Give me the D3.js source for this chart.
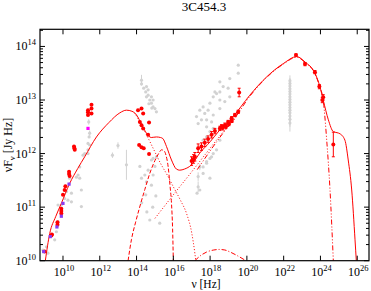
<!DOCTYPE html>
<html>
<head>
<meta charset="utf-8">
<script src="https://cdn.jsdelivr.net/npm/d3@7"></script>
<style>
  body { margin: 0; background: #fff; }
  text { font-family: "Liberation Serif", "Times New Roman", serif; fill: #000; }
</style>
</head>
<body>
<svg id="chart" width="371" height="291"></svg>
<script>
// all values are log10(nu [Hz]), log10(nuFnu [Jy Hz]) pairs
const xTicks = [10, 12, 14, 16, 18, 20, 22, 24, 26]
const yTicks = [10, 11, 12, 13, 14]

// model components
const totalModel = [[9.04,10.0],[9.28,10.51],[9.6,10.82],[9.91,11.07],[10.36,11.44],[10.8,11.72],[11.18,11.94],[11.82,12.31],[12.5,12.58],[13.09,12.76],[13.45,12.81],[13.75,12.79],[14.0,12.72],[14.27,12.55],[14.54,12.38],[14.8,12.3],[15.08,12.31],[15.3,12.3],[15.43,12.28],[15.63,12.13],[15.9,11.88],[16.17,11.71],[16.35,11.69],[16.6,11.71],[16.99,11.79],[17.44,12.01],[18.0,12.22],[18.5,12.43],[19.25,12.69],[20.16,13.09],[21.07,13.43],[21.98,13.68],[22.71,13.81],[23.16,13.71],[23.7,13.5],[23.97,13.25],[24.15,13.0],[24.43,12.63],[24.7,12.41],[24.9,12.39],[25.06,12.37],[25.33,12.25],[25.51,11.88],[25.7,11.32],[25.88,10.39],[25.95,10.0]]
const syncModel = [[13.9,12.76],[14.2,12.58],[14.5,12.38],[14.9,12.1],[15.3,11.82],[15.7,11.58],[16.0,11.38],[16.4,11.12],[16.72,10.88],[17.0,10.52],[17.17,10.14],[17.22,10.0]]
const diskModel = [[13.54,10.0],[13.72,10.39],[13.95,10.72],[14.17,11.0],[14.45,11.33],[14.72,11.63],[15.0,11.87],[15.2,12.0],[15.36,12.07],[15.5,12.05],[15.6,11.97],[15.72,11.75],[15.82,11.4],[15.9,11.07],[15.96,10.6],[16.0,10.0]]
const sscModel = [[15.0,10.79],[16.0,11.23],[17.0,11.66],[18.0,12.1],[18.7,12.4],[19.4,12.67]]
const ecModel = [[17.3,11.7],[18.0,12.05],[18.7,12.38],[19.3,12.64],[20.16,13.07],[21.07,13.42],[21.98,13.67],[22.71,13.8],[23.16,13.7],[23.7,13.49],[23.97,13.24],[24.15,13.0],[24.34,12.25],[24.52,11.32],[24.7,10.0]]
const coronaModel = [[17.17,10.0],[17.5,10.1],[17.8,10.16],[18.2,10.2],[18.5,10.21],[18.8,10.2],[19.1,10.16],[19.5,10.09],[19.95,10.0]]

// simultaneous data (red), [nu, F, err]
const radioRed = [[9.0,10.17],[9.37,10.47],[9.4,10.49],[9.7,10.67],[9.7,10.72],[9.91,10.88],[9.91,10.93],[9.91,10.97],[10.0,11.23],[10.09,11.32],[10.13,11.39],[10.33,11.66],[10.36,11.58],[10.33,11.62],[10.6,12.13],[10.64,12.07],[10.62,12.1],[11.36,12.72],[11.36,12.81],[11.36,12.77],[11.55,12.91],[11.55,12.84],[11.55,12.75]]
const opticalRed = [[14.08,12.81],[14.27,12.84],[14.36,12.75],[14.18,12.59],[14.27,12.53],[14.36,12.47],[14.68,12.58],[14.63,12.35],[14.14,12.16],[14.27,12.12],[14.39,12.1],[14.68,11.99]]
const xrayRed = [[16.99,11.86,0.08],[17.1,11.9,0.08],[17.17,11.94,0.08],[17.35,12.1,0.08],[17.53,12.13,0.07],[17.71,12.2,0.07],[17.89,12.27,0.06],[18.08,12.35,0.06],[18.26,12.42,0.05],[18.53,12.47,0.04],[18.62,12.5,0.04],[18.69,12.48,0.04],[18.8,12.53,0.04],[18.86,12.51,0.04],[18.98,12.59,0.03],[19.02,12.55,0.03],[19.17,12.66,0.03],[19.18,12.61,0.03],[19.35,12.72,0.03],[19.53,12.78,0.03],[19.58,13.14,0.08]]
const gammaRed = [[22.67,13.84,0.02],[23.16,13.67,0.03],[23.7,13.52,0.03],[23.94,13.25,0.04],[24.1,13.0,0.05],[24.15,13.05,0.05],[24.7,12.17,0.23]]
const radioPurple = [[8.95,10.17],[9.31,10.45],[9.67,10.63],[9.91,10.83],[10.0,11.07],[10.33,11.43]]
const radioMagenta = [[11.36,12.47]]

// archival data (grey), [nu, F, err]
const archival = [
  [8.91,10.2],[9.1,10.26],[9.18,10.14],[9.55,10.39],[9.64,10.54],[9.73,10.73],[9.73,11.04],[9.91,11.04],[10.09,11.16],[10.19,11.29],[10.27,11.13],[10.46,11.26],[10.46,11.1],[10.36,11.54],[10.73,11.56],[10.82,11.6],[10.91,11.54],[10.91,11.75],[11.0,11.32],[11.0,11.01],[11.09,11.97],[11.18,12.0],[11.36,12.07],[11.36,12.19],[11.45,12.16],[11.36,12.0],[11.45,12.38,0.05],[11.42,12.31],[11.4,12.59,0.05],
  [12.69,11.97,0.05],[12.99,12.15,0.06],[13.45,11.79,0.28],
  [14.27,13.37,0.1],[14.27,13.3],[14.54,13.25],[14.63,13.19],[14.54,13.06],[14.72,13.0],[14.81,12.94],[14.9,12.87],[15.0,12.84],[15.08,12.78],[14.81,13.06],[14.63,13.09],[14.9,13.0],[14.39,13.22],[14.5,13.15],[14.67,12.93],[14.83,12.85],
  [14.18,11.76],[14.45,11.6],[14.63,11.69],[14.81,11.88],[14.9,11.91],[15.08,11.94],[14.27,11.54],[14.54,11.47],[14.81,11.41],[15.0,11.76],[14.9,11.6],[14.28,11.08],[14.56,10.91],[14.72,10.76],[14.88,11.0],[15.05,11.21],[14.5,11.23],[15.26,10.7],
  [17.62,12.25],[17.81,12.31],[17.99,12.41],[18.17,12.47],[17.81,12.63],[18.17,12.72],[18.53,12.84],[18.8,12.97],[19.07,13.06],[19.53,13.5],[19.53,13.65],[18.53,13.34],[18.26,13.15],[19.07,13.4],[18.98,13.22],[18.53,13.15],[18.17,13.06],[17.26,12.69],[17.44,12.81],[17.62,12.87],[17.35,12.56],[17.71,12.75],[17.99,12.94],[17.89,12.81],[18.35,13.12],[17.53,12.63],[17.81,12.5],[18.08,12.59],[18.53,13.0],[18.71,13.25],
  [17.44,11.75,0.06],[17.62,11.63],[17.81,11.82],[17.99,11.91],[18.17,12.0],[18.35,12.07],[17.35,11.57,0.08],[17.62,11.75],[17.81,11.85],[18.08,11.94],[17.99,11.54],[17.35,11.38,0.1],[17.29,11.26],[17.44,11.32],[18.53,12.25],
  [22.34,13.36,0.1],[22.34,13.31,0.1],[22.34,13.26,0.1],[22.34,13.21,0.1],[22.34,13.16,0.1],[22.34,13.11,0.1],[22.34,13.06,0.1],[22.34,13.01,0.1],[22.34,12.96,0.1],[22.34,12.91,0.1],[22.34,12.86,0.1],[22.34,12.81,0.1],[22.34,12.76,0.12],[22.34,12.7,0.12],[22.34,12.64,0.14],[22.34,12.57,0.16]
]

const svg = d3.select('#chart')
const L = 40, R = 369, T = 29.3, B = 260.7

const x = d3.scaleLog().domain([10 ** 8.75, 10 ** 26.64]).range([L, R])
const y = d3.scaleLog().domain([1e10, 10 ** 14.32]).range([B, T])
const px = d => x(10 ** d[0])
const py = d => y(10 ** d[1])

svg.append('clipPath').attr('id', 'plot')
  .append('rect').attr('x', L).attr('y', T).attr('width', R - L).attr('height', B - T)

const g = svg.append('g').attr('clip-path', 'url(#plot)')

// archival grey
const grey = '#d2d2d2'
g.selectAll('line.gerr')
  .data(archival.filter(d => d[2]))
  .enter().append('line')
  .attr('x1', px).attr('x2', px)
  .attr('y1', d => y(10 ** (d[1] + d[2])))
  .attr('y2', d => y(10 ** (d[1] - d[2])))
  .attr('stroke', grey).attr('stroke-width', 1)
g.selectAll('circle.grey')
  .data(archival)
  .enter().append('circle')
  .attr('cx', px).attr('cy', py).attr('r', 1.6)
  .attr('fill', grey)

// model curves
const line = d3.line().x(px).y(py).curve(d3.curveMonotoneX)
const curves = [
  { data: diskModel, dash: '4,2' },
  { data: syncModel, dash: '1,2' },
  { data: sscModel, dash: '1,2' },
  { data: coronaModel, dash: '5,2,1,2' },
  { data: ecModel, dash: '5,2,1,2,1,2' },
  { data: totalModel, dash: null }
]
curves.forEach(c => {
  g.append('path')
    .attr('d', line(c.data))
    .attr('fill', 'none')
    .attr('stroke', 'red')
    .attr('stroke-width', 1)
    .attr('stroke-dasharray', c.dash)
})

// red data with error bars
const redErr = xrayRed.concat(gammaRed)
g.selectAll('path.rerr')
  .data(redErr)
  .enter().append('path')
  .attr('d', d => {
    const cx = px(d), y1 = y(10 ** (d[1] + d[2])), y2 = y(10 ** (d[1] - d[2]))
    return `M${cx},${y1}V${y2}M${cx - 1.5},${y1}H${cx + 1.5}M${cx - 1.5},${y2}H${cx + 1.5}`
  })
  .attr('stroke', 'red').attr('stroke-width', 1).attr('fill', 'none')

g.selectAll('circle.red')
  .data(radioRed.concat(opticalRed, xrayRed, gammaRed))
  .enter().append('circle')
  .attr('cx', px).attr('cy', py).attr('r', 2)
  .attr('fill', 'red')

g.selectAll('rect.purple')
  .data(radioPurple)
  .enter().append('rect')
  .attr('x', d => px(d) - 1.6).attr('y', d => py(d) - 1.6)
  .attr('width', 3.2).attr('height', 3.2)
  .attr('fill', '#8a3cf0')
g.selectAll('rect.magenta')
  .data(radioMagenta)
  .enter().append('rect')
  .attr('x', d => px(d) - 1.6).attr('y', d => py(d) - 1.6)
  .attr('width', 3.2).attr('height', 3.2)
  .attr('fill', '#ff00ff')

// frame and ticks
svg.append('rect')
  .attr('x', L).attr('y', T).attr('width', R - L).attr('height', B - T)
  .attr('fill', 'none').attr('stroke', '#000').attr('stroke-width', 1.2)

const ticks = svg.append('g').attr('stroke', '#000').attr('stroke-width', 1)
xTicks.forEach(e => {
  const xx = x(10 ** e)
  ticks.append('line').attr('x1', xx).attr('x2', xx).attr('y1', B).attr('y2', B - 5)
  ticks.append('line').attr('x1', xx).attr('x2', xx).attr('y1', T).attr('y2', T + 5)
})
yTicks.forEach(e => {
  const yy = y(10 ** e)
  ticks.append('line').attr('x1', L).attr('x2', L + 5).attr('y1', yy).attr('y2', yy)
  ticks.append('line').attr('x1', R).attr('x2', R - 5).attr('y1', yy).attr('y2', yy)
  for (let k = 2; k < 10; k++) {
    const v = k * 10 ** e
    if (v > y.domain()[1]) break
    const ym = y(v)
    ticks.append('line').attr('x1', L).attr('x2', L + 3).attr('y1', ym).attr('y2', ym)
    ticks.append('line').attr('x1', R).attr('x2', R - 3).attr('y1', ym).attr('y2', ym)
  }
})

// tick labels
xTicks.forEach(e => {
  const t = svg.append('text')
    .attr('x', x(10 ** e) + 1).attr('y', 276)
    .attr('text-anchor', 'middle').attr('font-size', 12)
  t.append('tspan').text('10')
  t.append('tspan').attr('dy', -5).attr('font-size', 8.5).text(e)
})
yTicks.forEach(e => {
  const t = svg.append('text')
    .attr('x', 36).attr('y', y(10 ** e) + 4)
    .attr('text-anchor', 'end').attr('font-size', 12)
  t.append('tspan').text('10')
  t.append('tspan').attr('dy', -5).attr('font-size', 8.5).text(e)
})

// titles
svg.append('text')
  .attr('x', 204).attr('y', 11)
  .attr('text-anchor', 'middle').attr('font-size', 13)
  .text('3C454.3')

svg.append('text')
  .attr('x', 206).attr('y', 287.5)
  .attr('text-anchor', 'middle').attr('font-size', 11.5)
  .text('ν [Hz]')

const yl = svg.append('text')
  .attr('transform', 'translate(12,145) rotate(-90)')
  .attr('text-anchor', 'middle').attr('font-size', 12)
yl.append('tspan').text('νF')
yl.append('tspan').attr('dy', 3).attr('font-size', 8.5).text('ν')
yl.append('tspan').attr('dy', -3).text(' [Jy Hz]')
</script>
</body>
</html>
